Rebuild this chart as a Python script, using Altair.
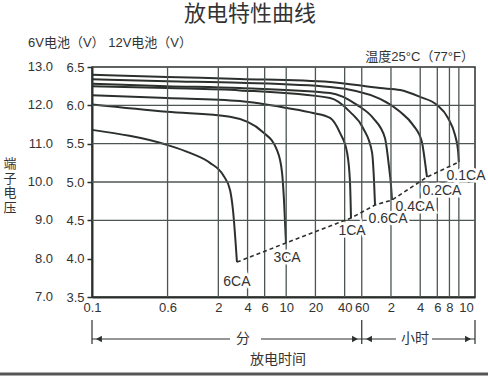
import altair as alt
import pandas as pd

# ---- data (time in minutes, voltage of 12V battery) ----
rates = ["0.1CA", "0.2CA", "0.4CA", "0.6CA", "1CA", "3CA", "6CA"]
t_01 = [0.1, 0.59, 3.34, 28.3, 92.5, 149, 239, 357, 464, 547, 588, 600]
v_01 = [12.80, 12.74, 12.69, 12.61, 12.45, 12.40, 12.22, 12.01, 11.67, 11.23, 10.83, 10.52]
t_02 = [0.1, 0.59, 3.34, 28.3, 92.5, 149, 202, 250, 269, 282]
v_02 = [12.68, 12.63, 12.59, 12.48, 12.17, 11.83, 11.49, 11.04, 10.52, 10.13]
t_04 = [0.1, 0.59, 3.34, 28.3, 53.6, 78.3, 104, 114, 120, 123]
v_04 = [12.56, 12.50, 12.45, 12.32, 12.01, 11.67, 11.15, 10.44, 9.92, 9.53]
t_06 = [0.1, 0.59, 3.34, 28.3, 45.4, 61.8, 76.5, 80.2, 82.2]
v_06 = [12.50, 12.45, 12.39, 12.19, 11.83, 11.41, 10.78, 10.05, 9.40]
t_1 = [0.1, 0.59, 3.34, 10.2, 18.9, 28.3, 35.8, 42.3, 45.4, 46.5]
v_1 = [12.26, 12.19, 12.11, 11.93, 11.80, 11.67, 11.28, 10.78, 10.0, 9.06]
t_3 = [0.1, 0.59, 2.64, 5.77, 8.04, 9.05, 9.49, 9.95]
v_3 = [12.02, 11.83, 11.70, 11.30, 10.83, 10.26, 9.53, 8.41]
t_6 = [0.1, 0.59, 1.02, 1.64, 2.24, 2.64, 2.83, 3.11]
v_6 = [11.36, 10.97, 10.76, 10.50, 10.18, 9.79, 9.27, 7.91]

# end-voltage (dashed) line through curve ends
end_t = [3.11, 9.95, 46.5, 82.2, 123, 282, 600]
end_v = [7.91, 8.41, 9.06, 9.40, 9.53, 10.13, 10.52]

# curve labels
lab_text = ["6CA", "3CA", "1CA", "0.6CA", "0.4CA", "0.2CA", "0.1CA"]
lab_t = [3.11, 10.2, 47.6, 112, 212, 402, 711]
lab_v = [7.39, 8.02, 8.72, 9.03, 9.35, 9.77, 10.16]

x_ticks = [0.1, 0.6, 2, 4, 6, 10, 20, 40, 60, 120, 240, 360, 480, 600]
x_grid = [0.6, 2, 4, 6, 10, 20, 40, 60, 120, 240, 360, 480, 600]
y_ticks = [7, 8, 9, 10, 11, 12, 13]
y_grid = [9, 10, 11, 12]

# bracket under the axis (minutes / hours)
br_seg_t = [0.1, 5.5, 60, 317]
br_seg_t2 = [2.64, 60, 135, 880]
br_tick_t = [0.1, 60, 880]
arrow_t = [0.118, 51.1, 71.3, 745]
arrow_shape = ["triangle-left", "triangle-right", "triangle-left", "triangle-right"]

INK = "#2b302d"
GRID = "#4d5652"
FONT = "Liberation Sans, Noto Sans CJK SC"

rows = []
for r, ts, vs in zip(rates, [t_01, t_02, t_04, t_06, t_1, t_3, t_6],
                     [v_01, v_02, v_04, v_06, v_1, v_3, v_6]):
    for i, (a, b) in enumerate(zip(ts, vs)):
        rows.append({"rate": r, "t": a, "v": b, "i": i})
curves = pd.DataFrame(rows)

xs = alt.Scale(type="log", domain=[0.1, 880], nice=False)
ys = alt.Scale(domain=[7, 13], nice=False, zero=False)

x_axis = alt.Axis(values=x_ticks, grid=False, ticks=False, labelOverlap=False,
                  labelFlush=False, labelPadding=4, labelFontSize=13, labelFont=FONT,
                  labelColor="#333", domainColor=INK, domainWidth=2,
                  labelAlign={"condition": {"test": "datum.value == 600", "value": "left"},
                              "value": "center"},
                  labelExpr="datum.value >= 120 ? format(datum.value/60, 'd') : format(datum.value, '~g')")
y_axis = alt.Axis(values=y_ticks, grid=False, tickSize=5, tickColor=INK, tickWidth=1.5,
                  labelPadding=3, labelFontSize=13, labelFont=FONT, labelColor="#333",
                  domainColor=INK, domainWidth=2,
                  labelExpr="format(datum.value/2, '.1f')")

X = lambda f="t": alt.X(f + ":Q", scale=xs, axis=x_axis, title=None)
Y = lambda f="v": alt.Y(f + ":Q", scale=ys, axis=y_axis, title=None)

lines = alt.Chart(curves).mark_line(color=INK, strokeWidth=2, interpolate="monotone").encode(
    x=X(), y=Y(), detail="rate:N", order="i:Q")

vgrid = alt.Chart(pd.DataFrame({"t": x_grid})).mark_rule(color=GRID, strokeWidth=1.3).encode(x=X())
hgrid = alt.Chart(pd.DataFrame({"v": y_grid})).mark_rule(color=GRID, strokeWidth=1.3).encode(y=Y())

ends = alt.Chart(pd.DataFrame({"t": end_t, "v": end_v})).mark_line(
    color=INK, strokeWidth=1.6, strokeDash=[4, 3]).encode(x=X(), y=Y())

labdf = pd.DataFrame({"t": lab_t, "v": lab_v, "txt": lab_text})
halo = alt.Chart(labdf).mark_text(fontSize=14, font=FONT, color="white", stroke="white",
                                  strokeWidth=5).encode(x=X(), y=Y(), text="txt:N")
labels = alt.Chart(labdf).mark_text(fontSize=14, font=FONT, color="#333").encode(
    x=X(), y=Y(), text="txt:N")

y12 = alt.Chart(pd.DataFrame({"v": y_ticks})).transform_calculate(
    lab="format(datum.v, '.1f')").mark_text(
    align="right", fontSize=13, font=FONT, color="#333").encode(
    x=alt.value(-39), y=Y(), text="lab:N")

one = pd.DataFrame({"a": [0]})

def note(txt, x, y, size=13, align="center", **kw):
    return alt.Chart(one).mark_text(text=txt, fontSize=size, font=FONT, color="#333",
                                    align=align, baseline="middle", **kw).encode(
        x=alt.value(x), y=alt.value(y))

title = note("放电特性曲线", 158, -53, size=22)
header = note("6V电池（V） 12V电池（V）", -64, -24, size=13, align="left")
temp = note("温度25°C（77°F）", 382, -10, size=13, align="right")
ytitle = note(["端", "子", "电", "压"], -82, 97, size=13, lineHeight=14.5)
fen = note("分", 151, 272, size=14)
hour = note("小时", 323, 272, size=14)
xtitle = note("放电时间", 186, 293, size=14)

segs = alt.Chart(pd.DataFrame({"t": br_seg_t, "t2": br_seg_t2})).mark_rule(
    color=INK, strokeWidth=1.2).encode(x=X(), x2="t2:Q", y=alt.value(272))
bticks = alt.Chart(pd.DataFrame({"t": br_tick_t})).mark_rule(color=INK, strokeWidth=1.2).encode(
    x=X(), y=alt.value(253), y2=alt.value(277))
arrows = alt.Chart(pd.DataFrame({"t": arrow_t, "s": arrow_shape})).mark_point(
    filled=True, color=INK, size=45, opacity=1).encode(
    x=X(), y=alt.value(272), shape=alt.Shape("s:N", scale=None))

bottom = alt.Chart(one).mark_rule(color="#555", strokeWidth=3).encode(
    x=alt.value(-92), x2=alt.value(396), y=alt.value(307))

chart = alt.layer(
    lines, vgrid, hgrid, ends, halo, labels, y12,
    title, header, temp, ytitle, fen, hour, xtitle, segs, bticks, arrows, bottom
).properties(
    width=383, height=230,
    autosize=alt.AutoSizeParams(type="none"),
    padding={"left": 92, "top": 67, "right": 13, "bottom": 79},
    background="white",
).configure_view(stroke=INK, strokeWidth=1.5)

chart.save("out.html", embed_options={"renderer": "svg", "actions": False})
